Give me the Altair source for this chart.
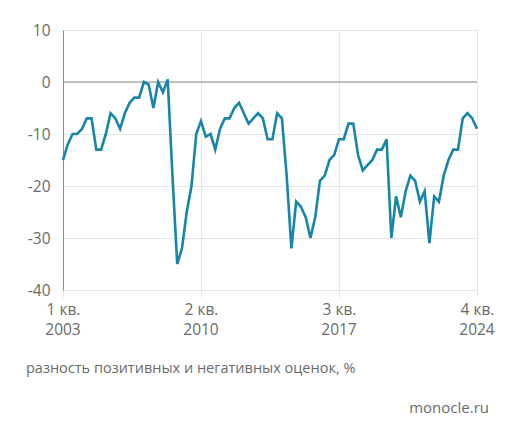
import altair as alt
import pandas as pd

# Quarterly values, 1 кв. 2003 ... 4 кв. 2024 (88 quarters)
values = [
    -15, -12, -10, -10, -9, -7, -7, -13, -13, -10,
    -6, -7, -9, -6, -4, -3, -3, 0, -0.5, -5,
    0, -2, 0.5, -18, -35, -32, -25, -20, -10, -7.5,
    -10.5, -10, -13, -9, -7, -7, -5, -4, -6, -8,
    -7, -6, -7, -11, -11, -6, -7, -18, -32, -23,
    -24, -26, -30, -26, -19, -18, -15, -14, -11, -11,
    -8, -8, -14, -17, -16, -15, -13, -13, -11, -30,
    -22, -26, -21, -18, -19, -23, -21, -31, -22, -23,
    -18, -15, -13, -13, -7, -6, -7, -9,
]
years = list(range(2003, 2025))
quarters = [f"{q} кв. {y}" for y in years for q in (1, 2, 3, 4)]

tick_index = [0, 29, 58, 87]
tick_quarter = ["1 кв.", "2 кв.", "3 кв.", "4 кв."]
tick_year = ["2003", "2010", "2017", "2024"]
y_ticks = [10, 0, -10, -20, -30, -40]

caption = "разность позитивных и негативных оценок, %"
source = "monocle.ru"

df = pd.DataFrame({"i": list(range(len(values))), "v": values, "q": quarters[:len(values)]})
ticks_df = pd.DataFrame({"i": tick_index, "year": tick_year})

expr = "''"
for idx, q in reversed(list(zip(tick_index, tick_quarter))):
    expr = f"datum.value == {idx} ? '{q}' : ({expr})"

FONT = "Open Sans"
TXT = "#6a6a6a"
GRID = "#e6e6e6"
FS = 15.5

xscale = alt.Scale(domain=[0, 87], nice=False, zero=False)

line = alt.Chart(df).mark_line(color="#1784a9", strokeWidth=2.6).encode(
    x=alt.X(
        "i:Q",
        scale=xscale,
        axis=alt.Axis(
            values=tick_index, labelExpr=expr, title=None, grid=True,
            gridColor=GRID, tickColor=GRID, tickSize=7, domain=False,
            labelFont=FONT, labelFontSize=FS, labelColor=TXT,
            labelPadding=5, labelBaseline="top",
            labelFlush=False, labelAlign="center",
        ),
    ),
    y=alt.Y(
        "v:Q",
        scale=alt.Scale(domain=[-40, 10], nice=False),
        axis=alt.Axis(
            values=y_ticks, labelExpr="'' + datum.value", title=None,
            ticks=False, domain=True, domainColor="#8a8a8a", grid=True,
            gridColor=GRID, labelFont=FONT, labelFontSize=FS,
            labelColor=TXT, labelPadding=13,
        ),
    ),
    tooltip=["q:N", "v:Q"],
)

year_labels = alt.Chart(ticks_df).mark_text(
    align="center", baseline="middle", font=FONT, fontSize=FS, color=TXT
).encode(x=alt.X("i:Q", scale=xscale), y=alt.value(300), text="year:N")

zero = alt.Chart(pd.DataFrame({"z": [0]})).mark_rule(color="#8a8a8a", strokeWidth=1).encode(
    y="z:Q"
)

cap = alt.Chart(pd.DataFrame({"t": [caption]})).mark_text(
    align="left", baseline="middle", font=FONT, fontSize=14.5, color=TXT
).encode(x=alt.value(-37), y=alt.value(339), text="t:N")

src = alt.Chart(pd.DataFrame({"t": [source]})).mark_text(
    align="right", baseline="middle", font=FONT, fontSize=15, color=TXT
).encode(x=alt.value(426), y=alt.value(378), text="t:N")

chart = alt.layer(zero, line, year_labels, cap, src).properties(
    width=414,
    height=260,
    autosize="none",
    padding={"left": 55, "top": 22, "right": 31, "bottom": 140},
    background="white",
).configure_view(strokeWidth=0)

chart.save("out.html", embed_options={"renderer": "svg", "actions": False})
